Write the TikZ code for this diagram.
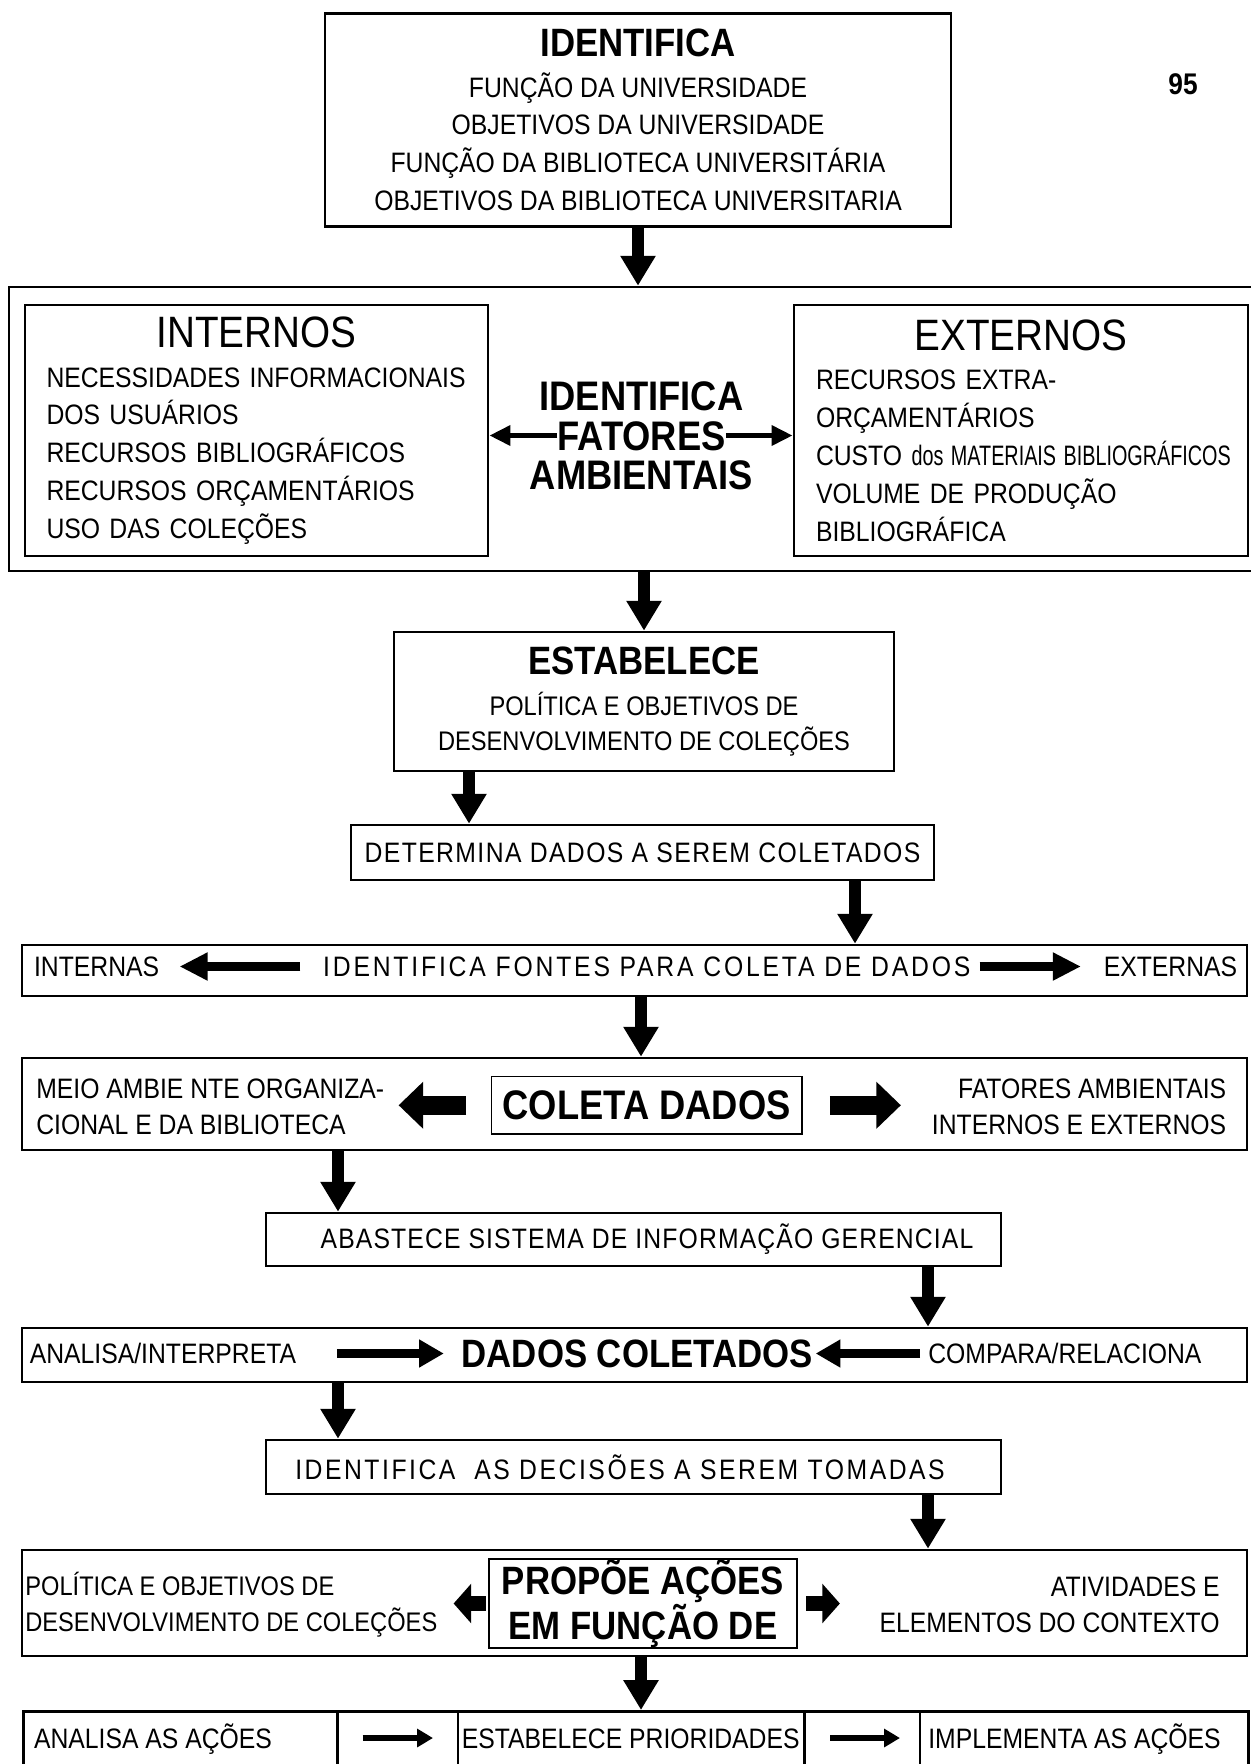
\documentclass[tikz,border=0pt]{standalone}
\usepackage{fontspec}
\setmainfont{Liberation Sans}[FakeStretch=0.88]
\usepackage{graphicx}
\usetikzlibrary{positioning, arrows.meta}

\newcommand{\corpo}{\fontsize{16}{21.5}\selectfont}
\newcommand{\duas}{\fontsize{16}{20.4}\selectfont}
\newcommand{\titulo}{\fontsize{22.5}{23}\selectfont\bfseries}
\newcommand{\cabec}{\fontsize{25}{24}\selectfont}
\newcommand{\forte}{\fontsize{23.5}{22.5}\selectfont\bfseries}

\begin{document}
\begin{tikzpicture}[
    x=1mm, y=-1mm,
    caixa/.style={draw, line width=1.5pt, inner sep=0pt, align=center, font=\corpo},
    interna/.style={draw, line width=1pt, inner sep=0pt, align=center, font=\forte},
    rotulo/.style={inner sep=0pt, font=\corpo, text height=11.5pt, text depth=0pt},
    bloco/.style={inner sep=0pt, font=\duas},
    seta/.style={line width=6.5pt, -{Triangle[length=17pt, width=19pt]}},
    setah/.style={line width=5.5pt, -{Triangle[length=16pt, width=15pt]}},
    setamedia/.style={line width=5.5pt, -{Triangle[length=14pt, width=15pt]}},
    setagorda/.style={line width=11pt, -{Triangle[length=14pt, width=26pt]}},
    setacurta/.style={line width=8pt, -{Triangle[length=10pt, width=22pt]}},
    setafina/.style={line width=3pt, -{Triangle[length=12pt, width=11pt]}},
    setamini/.style={line width=3.5pt, -{Triangle[length=9pt, width=10pt]}}
]

\useasboundingbox (0,0) rectangle (250,352.8);

%% ── Identifica (topo) ────────────────────────────────────────────────────────
\node[caixa, minimum width=125.2mm, minimum height=42.5mm] (funcao) at (127.6,24)
    {{\titulo IDENTIFICA}\\[1.5pt]
     FUNÇÃO DA UNIVERSIDADE\\
     OBJETIVOS DA UNIVERSIDADE\\
     FUNÇÃO DA BIBLIOTECA UNIVERSITÁRIA\\
     OBJETIVOS DA BIBLIOTECA UNIVERSITARIA};

\node[inner sep=0pt, font=\fontsize{17}{18}\selectfont\bfseries] (pagina) at (236.6,16.8) {95};

%% ── Fatores ambientais ───────────────────────────────────────────────────────
\node[caixa, minimum width=249.2mm, minimum height=56.8mm] (fatbox) at (126.4,85.8) {};

\node[caixa, minimum width=92.6mm, minimum height=50.2mm, text width=84mm, align=left] (internos) at (51.3,86.1)
    {\makebox[\linewidth]{\cabec INTERNOS}\\[1pt]
     \mbox{NECESSIDADES INFORMACIONAIS}\\
     DOS USUÁRIOS\\
     RECURSOS BIBLIOGRÁFICOS\\
     RECURSOS ORÇAMENTÁRIOS\\
     USO DAS COLEÇÕES};

\node[caixa, minimum width=90.8mm, minimum height=50.2mm, text width=82mm, align=left] (externos) at (204.2,86.1)
    {\makebox[\linewidth]{\cabec EXTERNOS}\\[1pt]
     RECURSOS EXTRA-\\
     ORÇAMENTÁRIOS\\
     \mbox{CUSTO \scalebox{0.8}[1]{dos MATERIAIS BIBLIOGRÁFICOS}}\\
     VOLUME DE PRODUÇÃO\\
     BIBLIOGRÁFICA};

\node[rotulo, font=\forte, text height=16.8pt] (identf) at (128.3,79.2) {IDENTIFICA};
\node[rotulo, font=\forte, text height=16.8pt] (fatores) at (128.3,87.1) {FATORES};
\node[rotulo, font=\forte, text height=16.8pt] (ambient) at (128.3,95) {AMBIENTAIS};

\draw[setafina] (fatores.west) -- (fatores.west -| internos.east);
\draw[setafina] (fatores.east) -- (fatores.east -| externos.west);

\draw[seta] (funcao.south) -- (funcao.south |- fatbox.north);

%% ── Estabelece ───────────────────────────────────────────────────────────────
\node[caixa, minimum width=100mm, minimum height=27.8mm, font=\fontsize{15.3}{19.6}\selectfont] (estab) at (128.8,140.3)
    {{\titulo ESTABELECE}\\[4pt]
     POLÍTICA E OBJETIVOS DE\\
     DESENVOLVIMENTO DE COLEÇÕES};

\draw[seta] (estab.north |- fatbox.south) -- (estab.north);

%% ── Determina ────────────────────────────────────────────────────────────────
\node[caixa, minimum width=116.6mm, minimum height=11mm, font={\corpo\addfontfeature{LetterSpace=5}}] (determina) at (128.5,170.5)
    {DETERMINA DADOS A SEREM COLETADOS};

\draw[seta] ([xshift=-35mm]estab.south) -- ([xshift=-35mm]estab.south |- determina.north);

%% ── Fontes para coleta ───────────────────────────────────────────────────────
\node[caixa, minimum width=245mm, minimum height=10.2mm] (fontes) at (126.9,194.1) {};
\node[rotulo, anchor=west] (internas) at (6.75,193.3) {INTERNAS};
\node[rotulo, font={\corpo\addfontfeature{LetterSpace=10}}] (idfontes) at (129.35,193.3) {IDENTIFICA FONTES PARA COLETA DE DADOS};
\node[rotulo, anchor=east] (externas) at (247.5,193.3) {EXTERNAS};

\draw[setah] ([xshift=-4.5mm]idfontes.west) -- ([xshift=4mm]internas.east);
\draw[setah] ([xshift=1.8mm]idfontes.east) -- ([xshift=-4.5mm]externas.west);

\draw[seta] ([xshift=42.5mm]determina.south) -- ([xshift=42.5mm]determina.south |- fontes.north);

%% ── Coleta dados ─────────────────────────────────────────────────────────────
\node[caixa, minimum width=245mm, minimum height=18.4mm] (linhacoleta) at (126.9,220.8) {};
\node[interna, minimum width=62.1mm, minimum height=11.5mm] (coleta) at (129.35,221.05) {COLETA DADOS};
\node[bloco, align=left, anchor=west] (meio) at (7.2,221.4)
    {MEIO AMBIE NTE ORGANIZA-\\CIONAL E DA BIBLIOTECA};
\node[bloco, align=right, anchor=east] (fatamb) at (245.3,221.4)
    {FATORES AMBIENTAIS\\INTERNOS E EXTERNOS};

\draw[setagorda] ([xshift=-4.9mm]coleta.west) -- ([xshift=-18.4mm]coleta.west);
\draw[setagorda] ([xshift=5.4mm]coleta.east) -- ([xshift=19.6mm]coleta.east);

\draw[seta] ([xshift=1.3mm]fontes.south) -- ([xshift=1.3mm]fontes.south |- linhacoleta.north);

%% ── Abastece SIG ─────────────────────────────────────────────────────────────
\node[caixa, minimum width=147mm, minimum height=10.6mm, font={\corpo\addfontfeature{LetterSpace=4}}] (abastece) at (126.7,247.9)
    {\hspace*{5.4mm}ABASTECE SISTEMA DE INFORMAÇÃO GERENCIAL};

\draw[seta] ([xshift=-59.3mm]linhacoleta.south) -- ([xshift=-59.3mm]linhacoleta.south |- abastece.north);

%% ── Dados coletados ──────────────────────────────────────────────────────────
\node[caixa, minimum width=245mm, minimum height=10.8mm] (linhadados) at (126.9,271) {};
\node[rotulo, anchor=west] (analisa) at (5.9,270.7) {ANALISA/INTERPRETA};
\node[rotulo, font=\fontsize{22.5}{22}\selectfont\bfseries, text height=16.1pt] (dados) at (127.45,270.7) {DADOS COLETADOS};
\node[rotulo, anchor=west] (compara) at (185.6,270.7) {COMPARA/RELACIONA};

\draw[setamedia] ([xshift=-24.9mm]dados.west) -- ([xshift=-3.5mm]dados.west);
\draw[setamedia] ([xshift=-1.6mm]compara.west) -- ([xshift=0.5mm]dados.east);

\draw[seta] ([xshift=58.9mm]abastece.south) -- ([xshift=58.9mm]abastece.south |- linhadados.north);

%% ── Decisoes ─────────────────────────────────────────────────────────────────
\node[caixa, minimum width=147mm, minimum height=10.8mm, font={\corpo\addfontfeature{LetterSpace=9}}] (decisoes) at (126.7,293.4)
    {IDENTIFICA \ AS DECISÕES A SEREM TOMADAS\hspace*{5.4mm}};

\draw[seta] ([xshift=-59.3mm]linhadados.south) -- ([xshift=-59.3mm]linhadados.south |- decisoes.north);

%% ── Propoe acoes ─────────────────────────────────────────────────────────────
\node[caixa, minimum width=245mm, minimum height=21.2mm] (linhapropoe) at (126.9,320.6) {};
\node[interna, minimum width=61.6mm, minimum height=17mm, font=\fontsize{22.5}{22}\selectfont\bfseries] (propoe) at (128.6,320.7)
    {PROPÕE AÇÕES\\EM FUNÇÃO DE};
\node[bloco, align=left, anchor=west, font=\fontsize{15.3}{20.4}\selectfont] (politica) at (5,320.9)
    {POLÍTICA E OBJETIVOS DE\\DESENVOLVIMENTO DE COLEÇÕES};
\node[bloco, align=right, anchor=east] (atividades) at (244,320.9)
    {ATIVIDADES E\\ELEMENTOS DO CONTEXTO};

\draw[setacurta] ([xshift=-0.5mm]propoe.west) -- ([xshift=-6.9mm]propoe.west);
\draw[setacurta] ([xshift=1.7mm]propoe.east) -- ([xshift=8.4mm]propoe.east);

\draw[seta] ([xshift=58.9mm]decisoes.south) -- ([xshift=58.9mm]decisoes.south |- linhapropoe.north);

%% ── Linha final ──────────────────────────────────────────────────────────────
\node[caixa, minimum width=245mm, minimum height=25mm, anchor=north west] (linhafinal) at (4.4,342) {};
\foreach \xd in {67.5, 91.6, 160.9, 184}
    \draw[line width=1.5pt] (linhafinal.north -| \xd,0) -- (linhafinal.south -| \xd,0);

\node[rotulo, anchor=west] (analisaacoes) at (6.75,347.6) {ANALISA AS AÇÕES};
\node[rotulo, anchor=west] (prioridades) at (92.3,347.6) {ESTABELECE PRIORIDADES};
\node[rotulo, anchor=west] (implementa) at (185.6,347.6) {IMPLEMENTA AS AÇÕES};

\draw[setamini] ([xshift=-19.8mm]prioridades.west) -- ([xshift=-5.7mm]prioridades.west);
\draw[setamini] ([xshift=-19.6mm]implementa.west) -- ([xshift=-5.6mm]implementa.west);

\draw[seta] ([xshift=1.3mm]linhapropoe.south) -- ([xshift=1.3mm]linhapropoe.south |- linhafinal.north);

\end{tikzpicture}
\end{document}
